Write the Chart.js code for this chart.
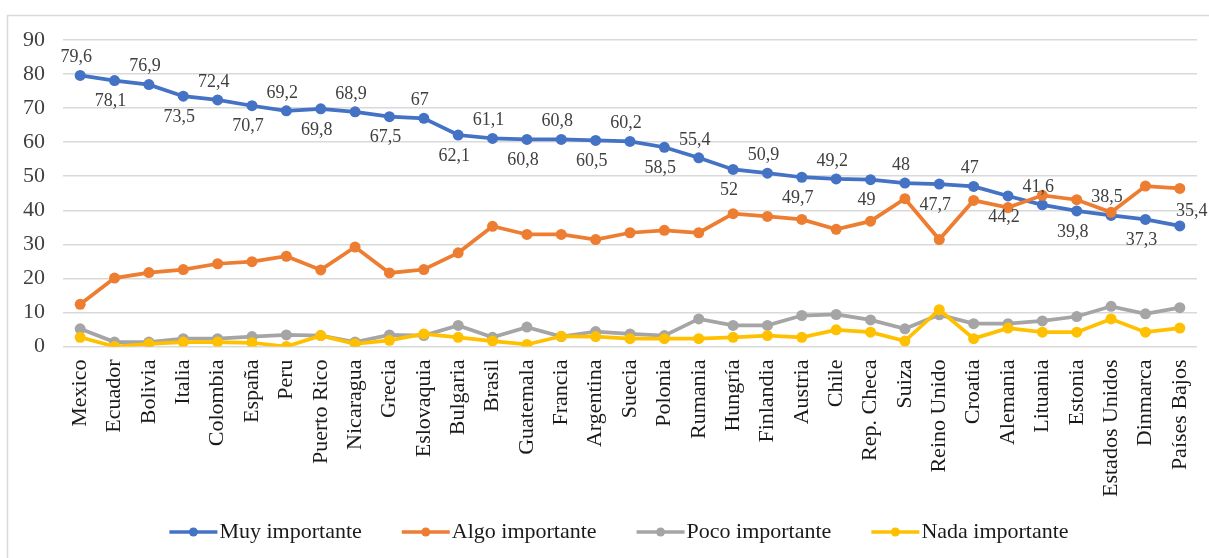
<!DOCTYPE html>
<html>
<head>
<meta charset="utf-8">
<script src="https://cdn.jsdelivr.net/npm/chart.js@4.4.0/dist/chart.umd.min.js"></script>
<style>
html,body{margin:0;padding:0;background:#fff;}
#wrap{width:1209px;height:558px;}
</style>
</head>
<body>
<div id="wrap"><canvas id="c" width="1209" height="558"></canvas></div>
<script>
const countries = ["Mexico","Ecuador","Bolivia","Italia","Colombia","España","Peru","Puerto Rico","Nicaragua","Grecia","Eslovaquia","Bulgaria","Brasil","Guatemala","Francia","Argentina","Suecia","Polonia","Rumania","Hungría","Finlandia","Austria","Chile","Rep. Checa","Suiza","Reino Unido","Croatia","Alemania","Lituania","Estonia","Estados Unidos","Dinmarca","Países Bajos"];
const muyImportante = [79.6,78.1,76.9,73.5,72.4,70.7,69.2,69.8,68.9,67.5,67,62.1,61.1,60.8,60.8,60.5,60.2,58.5,55.4,52,50.9,49.7,49.2,49,48,47.7,47,44.2,41.6,39.8,38.5,37.3,35.4];
const algoImportante = [12.4,20.1,21.7,22.6,24.3,24.9,26.5,22.5,29.2,21.6,22.6,27.5,35.3,32.9,32.9,31.4,33.4,34.1,33.4,39.0,38.2,37.3,34.4,36.8,43.4,31.4,42.9,40.8,44.4,43.1,39.4,47.1,46.4];
const pocoImportante = [5.2,1.3,1.3,2.3,2.3,2.9,3.4,3.2,1.3,3.4,3.2,6.2,2.7,5.7,2.9,4.4,3.7,3.2,8.1,6.2,6.2,9.1,9.4,7.8,5.2,9.3,6.7,6.7,7.5,8.8,11.8,9.6,11.4];
const nadaImportante = [2.7,0,0.8,1.3,1.3,1.1,0,3.2,0.8,1.8,3.7,2.7,1.6,0.6,3.0,2.9,2.3,2.3,2.3,2.7,3.2,2.7,4.9,4.2,1.6,10.8,2.3,5.4,4.2,4.2,8.1,4.2,5.4];
const seriesNames = ["Muy importante","Algo importante","Poco importante","Nada importante"];
const yTicks = [0,10,20,30,40,50,60,70,80,90];

const colors = ["#4472C4","#ED7D31","#A5A5A5","#FFC000"];
const serif = '"Liberation Serif", "Times New Roman", serif';

const frame = {
  id: 'frame',
  beforeDraw(chart) {
    const ctx = chart.ctx;
    ctx.save();
    ctx.fillStyle = '#fff';
    ctx.fillRect(0, 0, chart.width, chart.height);
    ctx.strokeStyle = '#d9d9d9';
    ctx.lineWidth = 1.5;
    ctx.beginPath();
    ctx.moveTo(7.5, chart.height);
    ctx.lineTo(7.5, 15.5);
    ctx.lineTo(chart.width, 15.5);
    ctx.stroke();
    ctx.restore();
  }
};

const valueLabels = {
  id: 'valueLabels',
  afterDatasetsDraw(chart) {
    const meta = chart.getDatasetMeta(0);
    const ctx = chart.ctx;
    const vals = chart.data.datasets[0].data;
    ctx.save();
    ctx.font = '18px ' + serif;
    ctx.fillStyle = '#404040';
    ctx.textAlign = 'center';
    ctx.textBaseline = 'middle';
    meta.data.forEach((pt, i) => {
      const txt = String(vals[i]).replace('.', ',');
      const above = i % 2 === 0;
      let x = pt.x - 4;
      let y = above ? pt.y - 18 : pt.y + 21;
      if (i === meta.data.length - 1) { x = pt.x + 12; y = pt.y - 15; }
      ctx.fillText(txt, x, y);
    });
    ctx.restore();
  }
};

const lineLegend = {
  id: 'lineLegend',
  afterDraw(chart) {
    const ctx = chart.ctx;
    const ds = chart.data.datasets;
    ctx.save();
    ctx.font = '22px ' + serif;
    const lineW = 48, textGap = 2, itemGap = 40;
    const widths = ds.map(d => ctx.measureText(d.label).width);
    const total = widths.reduce((a, w) => a + lineW + textGap + w, 0) + itemGap * (ds.length - 1);
    let x = 619 - total / 2;
    const y = 532;
    ds.forEach((d, i) => {
      ctx.strokeStyle = d.borderColor;
      ctx.lineWidth = 3.5;
      ctx.beginPath(); ctx.moveTo(x, y); ctx.lineTo(x + lineW, y); ctx.stroke();
      ctx.fillStyle = d.borderColor;
      ctx.beginPath(); ctx.arc(x + lineW / 2, y, 4.5, 0, Math.PI * 2); ctx.fill();
      ctx.fillStyle = '#1a1a1a';
      ctx.textAlign = 'left';
      ctx.textBaseline = 'middle';
      ctx.fillText(d.label, x + lineW + textGap, y);
      x += lineW + textGap + widths[i] + itemGap;
    });
    ctx.restore();
  }
};

const seriesData = [muyImportante, algoImportante, pocoImportante, nadaImportante];
const datasets = seriesData.map((d, i) => ({
  label: seriesNames[i],
  data: d,
  borderColor: colors[i],
  backgroundColor: colors[i],
  pointBackgroundColor: colors[i],
  pointBorderColor: colors[i],
  borderWidth: 3.75,
  pointRadius: 5.5,
  pointBorderWidth: 0,
  tension: 0,
  order: 4 - i
}));

new Chart(document.getElementById('c'), {
  type: 'line',
  data: { labels: countries, datasets: datasets },
  plugins: [frame, valueLabels, lineLegend],
  options: {
    responsive: false,
    devicePixelRatio: 1,
    animation: false,
    layout: { padding: { left: 7, right: 12, top: 40, bottom: 51.5 } },
    plugins: {
      tooltip: { enabled: false },
      legend: { display: false }
    },
    scales: {
      x: {
        type: 'category',
        offset: true,
        grid: { display: false, drawTicks: false },
        border: { display: false },
        ticks: {
          autoSkip: false,
          minRotation: 90,
          maxRotation: 90,
          padding: 13,
          color: '#1a1a1a',
          font: { family: serif, size: 22 }
        },
        afterFit(scale) {
          scale.height = 160;
          scale.paddingLeft = 0;
          scale.paddingRight = 0;
        }
      },
      y: {
        min: 0,
        max: 90,
        afterBuildTicks(scale) { scale.ticks = yTicks.map(v => ({ value: v })); },
        grid: { color: '#d9d9d9', lineWidth: 1.5, drawTicks: false },
        border: { display: false },
        ticks: {
          padding: 18,
          color: '#404040',
          font: { family: serif, size: 22 }
        },
        afterFit(scale) { scale.width = 56; }
      }
    }
  }
});
</script>
</body>
</html>
